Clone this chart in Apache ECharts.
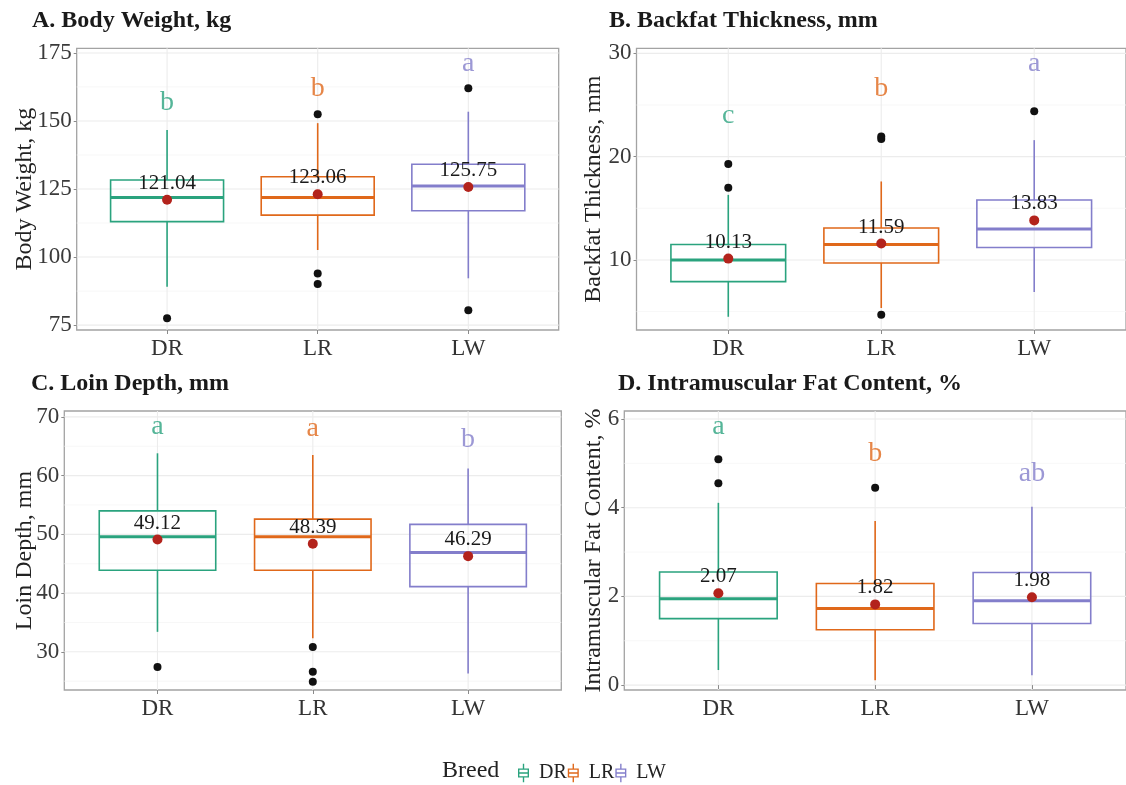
<!DOCTYPE html>
<html>
<head>
<meta charset="utf-8">
<script src="https://cdn.jsdelivr.net/npm/echarts@6/dist/echarts.min.js"></script>
<style>html,body{margin:0;padding:0;background:#fff}#c{width:1126px;height:785px}</style>
</head>
<body>
<div id="c"></div>
<script>
// ---------- DATA ----------
const categories = ['DR', 'LR', 'LW'];

// Box stats: [lower whisker, Q1, median, Q3, upper whisker]
const bwBoxes = [[89.1, 113.0, 121.9, 128.3, 146.7], [102.6, 115.4, 121.9, 129.5, 149.2], [92.2, 117.0, 126.1, 134.1, 153.4]];
const bwOutliers = [[77.5], [152.5, 94.0, 90.1], [162.0, 80.5]];
const bwMeans = [121.04, 123.06, 125.75];
const bwLetters = ['b', 'b', 'a'];
const bwLetterY = [156.6, 162.0, 171.2];
const bwTicks = [75, 100, 125, 150, 175];

const bfBoxes = [[4.5, 7.9, 10.0, 11.5, 16.3], [5.35, 9.7, 11.5, 13.1, 17.6], [6.9, 11.2, 13.0, 15.8, 21.6]];
const bfOutliers = [[19.3, 17.0], [21.7, 21.95, 4.7], [24.4]];
const bfMeans = [10.13, 11.59, 13.83];
const bfLetters = ['c', 'b', 'a'];
const bfLetterY = [24.0, 26.6, 29.0];
const bfTicks = [10, 20, 30];

const ldBoxes = [[33.4, 43.9, 49.6, 54.0, 63.8], [32.3, 43.9, 49.6, 52.6, 63.5], [26.3, 41.1, 46.9, 51.7, 61.2]];
const ldOutliers = [[27.4], [30.8, 26.6, 24.9], []];
const ldMeans = [49.12, 48.39, 46.29];
const ldLetters = ['a', 'a', 'b'];
const ldLetterY = [68.3, 68.0, 66.1];
const ldTicks = [30, 40, 50, 60, 70];

const imfBoxes = [[0.34, 1.50, 1.95, 2.55, 4.11], [0.11, 1.25, 1.73, 2.29, 3.70], [0.22, 1.39, 1.90, 2.54, 4.02]];
const imfOutliers = [[5.09, 4.55], [4.45], []];
const imfMeans = [2.07, 1.82, 1.98];
const imfLetters = ['a', 'b', 'ab'];
const imfLetterY = [5.82, 5.22, 4.77];
const imfTicks = [0, 2, 4, 6];

const panelTitles = ['A. Body Weight, kg', 'B. Backfat Thickness, mm', 'C. Loin Depth, mm', 'D. Intramuscular Fat Content, %'];
const axisTitles = ['Body Weight, kg', 'Backfat Thickness, mm', 'Loin Depth, mm', 'Intramuscular Fat Content, %'];
const legendTitle = 'Breed';

// ---------- STYLE / LAYOUT ----------
const breedColors = ['#2aa37e', '#e0681a', '#837ecb'];
const FONT = '"Liberation Serif", "Times New Roman", serif';
const panels = [
  { boxes: bwBoxes, outliers: bwOutliers, means: bwMeans, letters: bwLetters, letterY: bwLetterY, ticks: bwTicks,
    min: 73.2, max: 176.7, grid: { left: 76.7, top: 48.3, width: 482, height: 281.7 }, nameGap: 40,
    title: { left: 32, top: 9 } },
  { boxes: bfBoxes, outliers: bfOutliers, means: bfMeans, letters: bfLetters, letterY: bfLetterY, ticks: bfTicks,
    min: 3.22, max: 30.49, grid: { left: 636.5, top: 48.3, width: 496.5, height: 281.7 }, nameGap: 31,
    title: { left: 609, top: 9 } },
  { boxes: ldBoxes, outliers: ldOutliers, means: ldMeans, letters: ldLetters, letterY: ldLetterY, ticks: ldTicks,
    min: 23.5, max: 71.0, grid: { left: 64.3, top: 411, width: 497, height: 279 }, nameGap: 28,
    title: { left: 31, top: 372 } },
  { boxes: imfBoxes, outliers: imfOutliers, means: imfMeans, letters: imfLetters, letterY: imfLetterY, ticks: imfTicks,
    min: -0.11, max: 6.18, grid: { left: 624.3, top: 411, width: 509, height: 279 }, nameGap: 19,
    title: { left: 618, top: 372 } }
];

function renderBox(params, api) {
  const x = api.value(0);
  const low = api.coord([x, api.value(1)]);
  const q1 = api.coord([x, api.value(2)]);
  const med = api.coord([x, api.value(3)]);
  const q3 = api.coord([x, api.value(4)]);
  const high = api.coord([x, api.value(5)]);
  const hw = api.size([0.75, 0])[0] / 2;
  const color = api.visual('color');
  const lw = 1.6;
  return {
    type: 'group',
    children: [
      { type: 'line', shape: { x1: high[0], y1: high[1], x2: q3[0], y2: q3[1] }, style: { stroke: color, lineWidth: lw } },
      { type: 'line', shape: { x1: q1[0], y1: q1[1], x2: low[0], y2: low[1] }, style: { stroke: color, lineWidth: lw } },
      { type: 'rect', shape: { x: q3[0] - hw, y: q3[1], width: 2 * hw, height: q1[1] - q3[1] },
        style: { fill: 'rgba(255,255,255,0)', stroke: color, lineWidth: lw } },
      { type: 'line', shape: { x1: med[0] - hw, y1: med[1], x2: med[0] + hw, y2: med[1] }, style: { stroke: color, lineWidth: 3 } }
    ]
  };
}

// gridlines: item = [x, y, kind]; kind 0 major horizontal, 1 minor horizontal, 2 vertical
function renderGridLine(params, api) {
  const cs = params.coordSys;
  const kind = api.value(2);
  const p = api.coord([api.value(0), api.value(1)]);
  if (kind === 2) {
    return { type: 'line', shape: { x1: p[0], y1: cs.y, x2: p[0], y2: cs.y + cs.height },
      style: { stroke: '#ececec', lineWidth: 1.1 } };
  }
  return { type: 'line', shape: { x1: cs.x, y1: p[1], x2: cs.x + cs.width, y2: p[1] },
    style: { stroke: kind === 0 ? '#ececec' : '#f5f5f5', lineWidth: kind === 0 ? 1.1 : 0.8 } };
}

const grids = [], xAxes = [], yAxes = [], series = [], titles = [];
panels.forEach((p, pi) => {
  grids.push(Object.assign({ show: true, borderColor: '#a3a3a3', borderWidth: 1.3, backgroundColor: '#fff', containLabel: false }, p.grid));
  titles.push({ text: panelTitles[pi], left: p.title.left, top: p.title.top, padding: 0,
    textStyle: { fontFamily: FONT, fontWeight: 'bold', fontSize: 24, color: '#1a1a1a' } });
  xAxes.push({
    gridIndex: pi, type: 'value', min: 0.4, max: 3.6,
    axisLine: { show: false },
    axisTick: { show: true, customValues: [1, 2, 3], length: 4, lineStyle: { color: '#8a8a8a' } },
    axisLabel: { customValues: [1, 2, 3], formatter: v => categories[Math.round(v) - 1], margin: 7,
      fontFamily: FONT, fontSize: 23, color: '#333' },
    splitLine: { show: false }
  });
  yAxes.push({
    gridIndex: pi, type: 'value', min: p.min, max: p.max,
    name: axisTitles[pi], nameLocation: 'middle', nameGap: p.nameGap, nameMoveOverlap: false,
    nameTextStyle: { fontFamily: FONT, fontSize: 24, color: '#222' },
    axisLine: { show: false },
    axisTick: { show: true, customValues: p.ticks, length: 3, lineStyle: { color: '#8a8a8a' } },
    axisLabel: { customValues: p.ticks, margin: 5, fontFamily: FONT, fontSize: 23, color: '#3a3a3a' },
    splitLine: { show: false }
  });
  const step = p.ticks[1] - p.ticks[0];
  const gl = [];
  for (let v = p.ticks[0] - step / 2; v <= p.max; v += step) if (v >= p.min) gl.push([1, v, 1]);
  p.ticks.forEach(v => gl.push([1, v, 0]));
  [1, 2, 3].forEach(v => gl.push([v, p.ticks[0], 2]));
  series.push({ type: 'custom', xAxisIndex: pi, yAxisIndex: pi, z: 0, silent: true,
    renderItem: renderGridLine, encode: { x: 0, y: 1 }, data: gl });
  // boxes
  categories.forEach((c, ci) => {
    series.push({
      type: 'custom', name: c, xAxisIndex: pi, yAxisIndex: pi, z: 2,
      itemStyle: { color: breedColors[ci] },
      renderItem: renderBox,
      encode: { x: 0, y: [1, 2, 3, 4, 5] },
      data: [[ci + 1, ...p.boxes[ci]]]
    });
  });
  // outliers
  const out = [];
  p.outliers.forEach((arr, ci) => arr.forEach(v => out.push([ci + 1, v])));
  series.push({ type: 'scatter', xAxisIndex: pi, yAxisIndex: pi, data: out, symbolSize: 8, z: 3,
    itemStyle: { color: '#111', opacity: 1 }, silent: true });
  // means with labels
  series.push({
    type: 'scatter', xAxisIndex: pi, yAxisIndex: pi, z: 4, silent: true,
    data: p.means.map((m, ci) => [ci + 1, m]), symbolSize: 10,
    itemStyle: { color: '#b3231c', opacity: 1 },
    label: { show: true, position: 'top', distance: 1, formatter: d => d.value[1].toFixed(2),
      fontFamily: FONT, fontSize: 21, color: '#1a1a1a' }
  });
  // significance letters
  series.push({
    type: 'scatter', xAxisIndex: pi, yAxisIndex: pi, z: 4, silent: true, symbolSize: 0,
    data: p.letters.map((l, ci) => ({ value: [ci + 1, p.letterY[ci]], name: l,
      label: { color: breedColors[ci] } })),
    label: { show: true, position: 'inside', formatter: d => d.name, fontFamily: FONT, fontSize: 28 }
  });
});

const boxIcon = 'path://M5.25 0L6.75 0L6.75 5L5.25 5Z M0 5L12 5L12 15L0 15Z M1.5 6.5L1.5 13.5L10.5 13.5L10.5 6.5Z M1.5 9.25L10.5 9.25L10.5 10.75L1.5 10.75Z M5.25 15L6.75 15L6.75 20L5.25 20Z';

const chart = echarts.init(document.getElementById('c'), null, { renderer: 'canvas' });
chart.setOption({
  animation: false,
  backgroundColor: '#fff',
  title: titles,
  grid: grids,
  xAxis: xAxes,
  yAxis: yAxes,
  legend: {
    data: categories, left: 518, top: 763, padding: 0, itemWidth: 11, itemHeight: 19, itemGap: 1,
    icon: boxIcon, selectedMode: false,
    textStyle: { fontFamily: FONT, fontSize: 20, color: '#222', padding: [0, 0, 0, 5] }
  },
  graphic: [{ type: 'text', left: 442, top: 759, style: { text: legendTitle, fontFamily: FONT, fontSize: 24, fill: '#222' } }],
  series: series
});
</script>
</body>
</html>
